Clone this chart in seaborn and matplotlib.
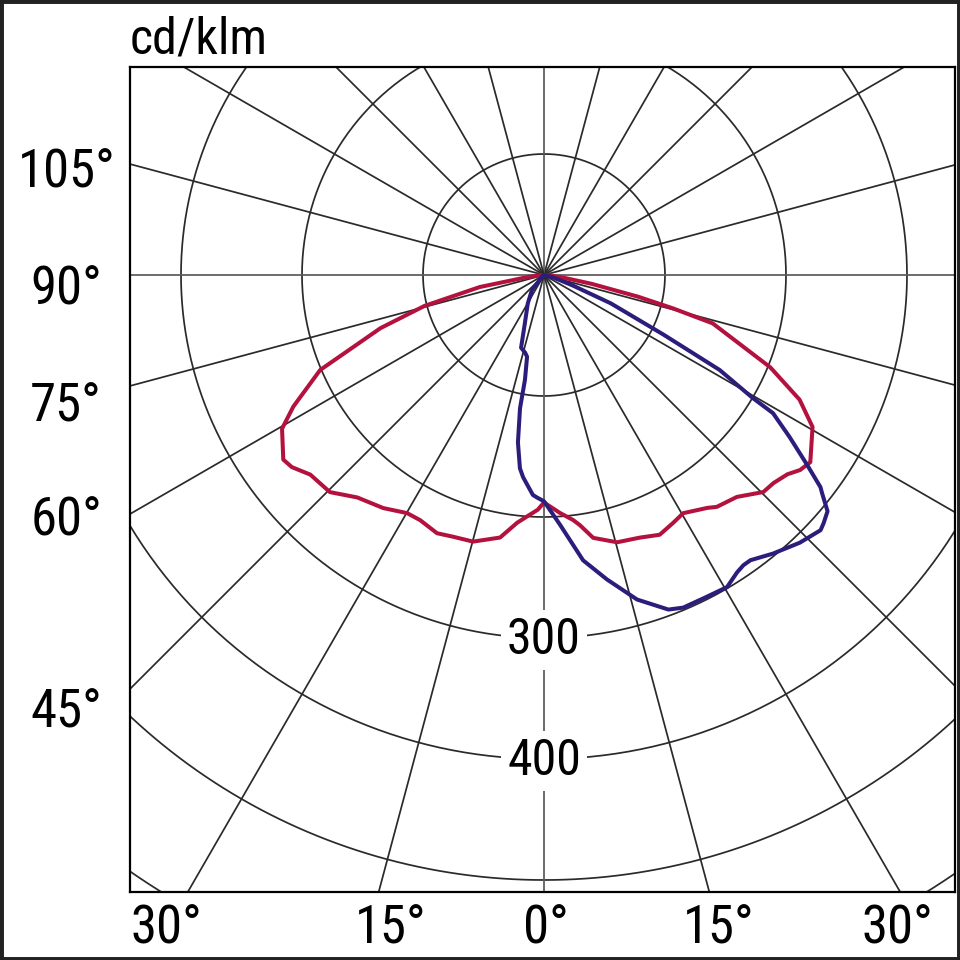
# Polar light distribution diagram (cd/klm), two C-planes, drawn on a cartesian axes.

import numpy as np
import seaborn as sns
import matplotlib.pyplot as plt
from matplotlib import font_manager
from matplotlib.patches import Rectangle

# Luminous intensity (cd/klm) by angle from nadir in degrees; negative = left half
red_angle = [-90, -85, -82, -79.4, -75.5, -72, -67, -62.3, -59.6, -54.7, -52.7, -49.5,
             -44.6, -40, -34.6, -29.9, -26.8, -22.5, -19.2, -14.9, -9.5, -6.2, -4, -1.5,
             0, 3.8, 6.8, 8.2, 10.6, 15.3, 20, 24, 27.5, 30.3, 35, 36.7, 41, 45.3, 47.8,
             50.7, 52.7, 54.9, 57.5, 60.5, 64, 67.8, 74, 75.5, 77, 79.5, 82, 85, 90]
red_cd = [0, 6, 17, 54, 102, 142, 201, 234, 251, 264, 262, 254,
          252, 240, 234, 227, 227, 231, 229, 228, 220, 206, 200, 194,
          188, 197, 204, 209, 221, 229, 231, 235, 231, 228, 235, 239, 243, 255, 256,
          260, 266, 269, 262, 255, 235, 202, 145, 110, 80, 40, 17, 6, 0]

blue_angle = [-90, -60, -45, -40, -38.7, -29.7, -21.6, -17.5, -13.7, -11.7, -10.3, -10.2,
              -8.85, -7.1, -5.9, -2.9, -1.8, 0, 3.7, 7.8, 11.7, 16, 20.4, 22.7, 26.7,
              30.4, 33, 34.5, 35.9, 39.4, 43.7, 47.3, 48.4, 50.2, 51.9, 52.5, 54.2, 56.6,
              58.9, 59.5, 61.6, 63.5, 67, 70, 75, 90]
blue_cd = [0, 1, 4, 7, 16, 27, 43, 63, 66, 69, 88, 112,
           140, 161, 168, 182, 184, 187, 207, 238, 257, 279, 295, 298, 298,
           299, 293, 291, 291, 298, 306, 311, 309, 305, 292, 288, 268, 243,
           221, 200, 165, 110, 60, 25, 8, 0]

ring_values = [100, 200, 300, 400, 500, 600, 700]
ring_labels = ["300", "400"]
spoke_angles = list(range(0, 360, 15))
left_labels = ["105°", "90°", "75°", "60°", "45°"]
bottom_labels = ["30°", "15°", "0°", "15°", "30°"]
unit_label = "cd/klm"

RED = "#b4123e"
BLUE = "#2b1d7c"
GRID = "#2a2a2a"

# layout, in pixels of the 960x960 picture
CX, CY, PX = 544, 275, 1.21          # pole position and pixels per cd/klm
BOX = (130, 67, 955, 892)            # left, top, right, bottom of the plot frame
left_pos = [(67, 188), (66, 305), (66, 422), (66, 535), (66, 727)]
bottom_pos = [(166, 943), (391, 943), (546, 943), (719, 943), (897, 943)]


def to_xy(angle, cd):
    a = np.radians(np.asarray(angle, dtype=float))
    cd = np.asarray(cd, dtype=float)
    return cd * np.sin(a), -cd * np.cos(a)


sns.set_theme(style="white")
names = {f.name for f in font_manager.fontManager.ttflist}
family = "DejaVu Sans"
for cand in ["Roboto Condensed", "Liberation Sans Narrow", "Roboto"]:
    if cand in names:
        family = cand
        break
plt.rcParams["font.family"] = [family, "DejaVu Sans"]
plt.rcParams["text.color"] = "black"

fig = plt.figure(figsize=(9.6, 9.6), dpi=100)
fig.patch.set_facecolor("white")
l, t, r, b = BOX
ax = fig.add_axes([l / 960, 1 - b / 960, (r - l) / 960, (b - t) / 960])
ax.set_xlim((l - CX) / PX, (r - CX) / PX)
ax.set_ylim(-(b - CY) / PX, (CY - t) / PX)
ax.set_xticks([])
ax.set_yticks([])
for s in ax.spines.values():
    s.set_color("black")
    s.set_linewidth(1.6)

# polar grid
th = np.linspace(0, 2 * np.pi, 721)
for rv in ring_values:
    ax.plot(rv * np.sin(th), rv * np.cos(th), color=GRID, lw=1.25, zorder=1)
for a in spoke_angles:
    gx, gy = to_xy([a, a], [0, 1000])
    c = "#5a5a5a" if a % 90 == 0 else GRID
    ax.plot(gx, gy, color=c, lw=1.25, zorder=1)

# ring value labels on the nadir axis
for txt in ring_labels:
    ax.text(0, -float(txt) - 2, txt, ha="center", va="center", fontsize=36, zorder=3,
            bbox=dict(boxstyle="square,pad=0.12", fc="white", ec="none"))

# intensity curves
rx, ry = to_xy(red_angle, red_cd)
bx, by = to_xy(blue_angle, blue_cd)
sns.lineplot(x=rx, y=ry, sort=False, estimator=None, color=RED, lw=2.9, ax=ax, zorder=4)
sns.lineplot(x=bx, y=by, sort=False, estimator=None, color=BLUE, lw=2.9, ax=ax, zorder=5)

# angle labels outside the frame
for txt, (x, y) in zip(left_labels, left_pos):
    fig.text(x / 960, 1 - y / 960, txt, ha="center", va="baseline", fontsize=38)
for txt, (x, y) in zip(bottom_labels, bottom_pos):
    fig.text(x / 960, 1 - y / 960, txt, ha="center", va="baseline", fontsize=38)
fig.text(l / 960, 1 - 53 / 960, unit_label, ha="left", va="baseline", fontsize=36)

# outer border of the picture
fig.patches.append(Rectangle((0, 0), 1, 1, transform=fig.transFigure, fill=False,
                             ec="#222222", lw=5))

fig.savefig("out.png", dpi=100)
